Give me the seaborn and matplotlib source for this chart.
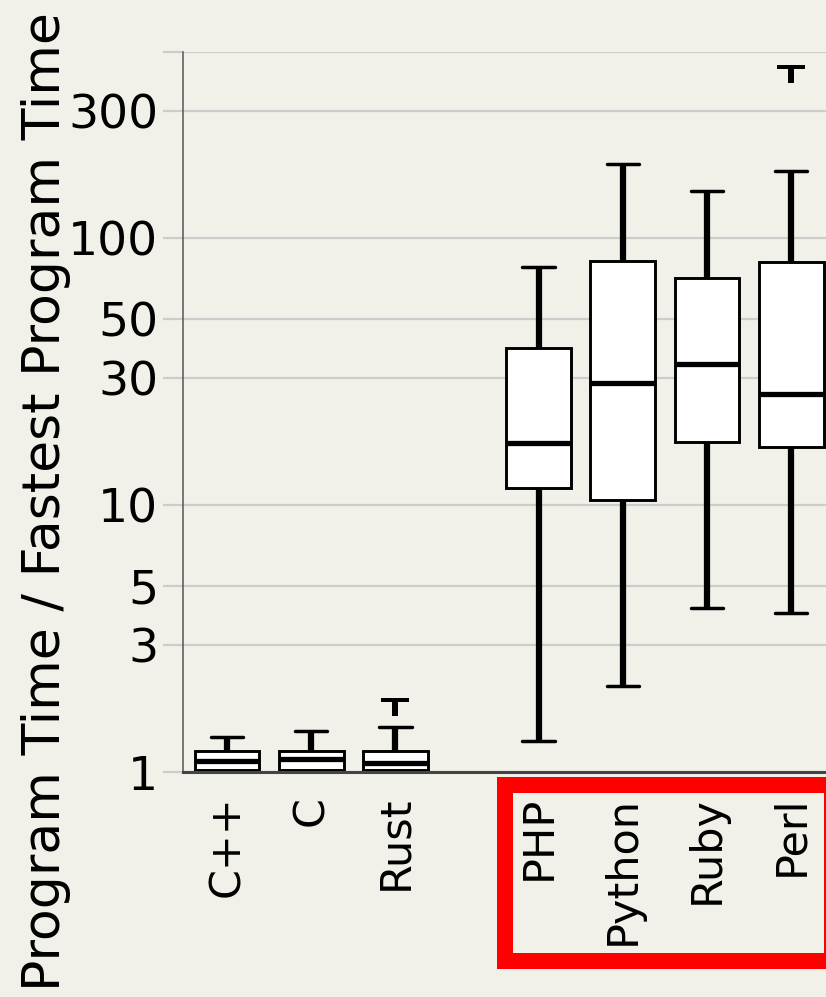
import numpy as np
import pandas as pd
import matplotlib
matplotlib.use("Agg")
import matplotlib.pyplot as plt
import seaborn as sns
from matplotlib.path import Path
from matplotlib.patches import Rectangle
from matplotlib.ticker import NullLocator

# ---- data ----
languages = ["C++", "C", "Rust", "PHP", "Python", "Ruby", "Perl"]
lows    = [1.0, 1.0, 1.0, 1.31, 2.10, 4.12, 3.95]
q1s     = [1.02, 1.02, 1.02, 11.6, 10.5, 17.3, 16.6]
medians = [1.10, 1.115, 1.078, 17.1, 28.6, 33.8, 26.2]
q3s     = [1.20, 1.20, 1.20, 39.0, 82.0, 70.8, 81.3]
highs   = [1.35, 1.425, 1.475, 78.5, 189.6, 150.0, 178.4]
outlier_langs  = ["Rust", "Perl"]
outlier_values = [1.76, 414.0]
y_tick_values = [1, 3, 5, 10, 30, 50, 100, 300, 500]
y_tick_labels = ["1", "3", "5", "10", "30", "50", "100", "300", ""]

# ---- layout / style ----
positions = [0, 1, 2, 3.7, 4.7, 5.7, 6.7]
pos_of = dict(zip(languages, positions))
BG = "#f2f1e9"

rows = []
for lang, lo, a, m, b, hi in zip(languages, lows, q1s, medians, q3s, highs):
    for v in (lo, a, m, b, hi):
        rows.append({"pos": pos_of[lang], "value": v})
df = pd.DataFrame(rows)

sns.set_style("white")
plt.rcParams["font.family"] = ["DejaVu Sans"]
plt.rcParams["text.color"] = "black"

fig = plt.figure(figsize=(8.26, 9.97), dpi=100)
fig.patch.set_facecolor(BG)
ax = fig.add_axes([183 / 826, 225 / 997, 643 / 826, 720 / 997])
ax.set_facecolor(BG)

sns.boxplot(
    data=df, x="pos", y="value", native_scale=True, log_scale=(False, True),
    width=0.77, whis=(0, 100), fliersize=0, color="white", linecolor="black",
    linewidth=2.1, ax=ax,
    boxprops=dict(linewidth=2.1),
    medianprops=dict(linewidth=3.8, color="black"),
    whiskerprops=dict(linewidth=4.5),
    capprops=dict(linewidth=2.5),
)

# outlier "T" markers
tpath = Path([(-1, 0.607), (1, 0.607), (1, 0.321), (0.214, 0.321),
              (0.214, -0.607), (-0.214, -0.607), (-0.214, 0.321),
              (-1, 0.321), (-1, 0.607)],
             [Path.MOVETO] + [Path.LINETO] * 7 + [Path.CLOSEPOLY])
sns.scatterplot(x=[pos_of[l] for l in outlier_langs], y=outlier_values,
                marker=tpath, s=20.2 ** 2, color="black", linewidth=0,
                ax=ax, zorder=5, legend=False)

ax.set_xlim(-0.5226, 7.114)
ax.set_ylim(1, 500)
ax.set_yticks(y_tick_values)
ax.set_yticklabels(y_tick_labels)
ax.yaxis.set_minor_locator(NullLocator())
ax.set_xticks(positions)
ax.set_xticklabels(languages, rotation=90, va="top", ha="center")
ax.set_xlabel("")
ax.set_ylabel("")

ax.yaxis.grid(True, color="#cccccc", linewidth=1.6)
ax.xaxis.grid(False)
ax.set_axisbelow(True)
ax.tick_params(axis="y", which="major", length=14.4, width=1.6,
               color="#cccccc", direction="out", pad=3.5, labelsize=34,
               left=True, labelcolor="black")
ax.tick_params(axis="x", length=0, pad=17, labelsize=31, labelcolor="black")

for s in ("top", "right"):
    ax.spines[s].set_visible(False)
ax.spines["left"].set_color("#555555")
ax.spines["left"].set_linewidth(1.1)
ax.spines["bottom"].set_color("#444444")
ax.spines["bottom"].set_linewidth(2.2)

fig.text(46 / 826, 0.4965, "Program Time / Fastest Program Time",
         rotation=90, ha="center", va="center", fontsize=37.5, color="black")

# red highlight frame around the scripting-language labels
outer = Rectangle((497 / 826, (997 - 968.5) / 997), (845 - 497) / 826,
                  (968.5 - 777) / 997, facecolor="#ff0000", edgecolor="none",
                  transform=fig.transFigure, zorder=-2)
inner = Rectangle((513 / 826, (997 - 953) / 997), (824 - 513) / 826,
                  (953 - 793) / 997, facecolor=BG, edgecolor="none",
                  transform=fig.transFigure, zorder=-1)
fig.add_artist(outer)
fig.add_artist(inner)

fig.savefig("out.png", dpi=100, facecolor=BG)
